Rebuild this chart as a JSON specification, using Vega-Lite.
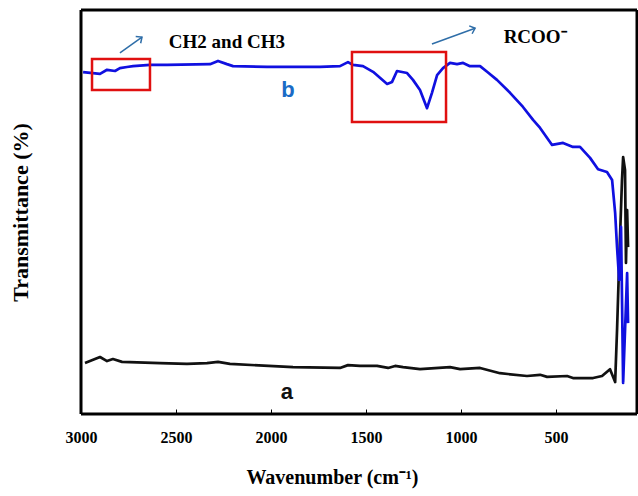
{
  "$schema": "https://vega.github.io/schema/vega-lite/v6.json",
  "width": 556,
  "height": 404,
  "autosize": {"type": "none"},
  "padding": {"left": 81, "top": 10, "right": 1, "bottom": 82},
  "config": {
    "view": {"stroke": null},
    "font": "Liberation Serif"
  },
  "datasets": {
    "spectra": [
      {"series": "a", "wn": 2979, "t": 12.6},
      {"series": "a", "wn": 2900, "t": 14.1},
      {"series": "a", "wn": 2863, "t": 13.1},
      {"series": "a", "wn": 2832, "t": 13.6},
      {"series": "a", "wn": 2784, "t": 12.9},
      {"series": "a", "wn": 2584, "t": 12.6},
      {"series": "a", "wn": 2442, "t": 12.4},
      {"series": "a", "wn": 2337, "t": 12.6},
      {"series": "a", "wn": 2279, "t": 12.9},
      {"series": "a", "wn": 2216, "t": 12.4},
      {"series": "a", "wn": 1884, "t": 11.6},
      {"series": "a", "wn": 1637, "t": 11.4},
      {"series": "a", "wn": 1595, "t": 12.1},
      {"series": "a", "wn": 1532, "t": 11.9},
      {"series": "a", "wn": 1442, "t": 11.9},
      {"series": "a", "wn": 1384, "t": 11.4},
      {"series": "a", "wn": 1347, "t": 11.9},
      {"series": "a", "wn": 1305, "t": 11.6},
      {"series": "a", "wn": 1216, "t": 11.1},
      {"series": "a", "wn": 1058, "t": 11.6},
      {"series": "a", "wn": 1005, "t": 11.1},
      {"series": "a", "wn": 900, "t": 11.4},
      {"series": "a", "wn": 795, "t": 10.1},
      {"series": "a", "wn": 653, "t": 9.4},
      {"series": "a", "wn": 584, "t": 9.7},
      {"series": "a", "wn": 547, "t": 9.2},
      {"series": "a", "wn": 442, "t": 9.4},
      {"series": "a", "wn": 411, "t": 8.9},
      {"series": "a", "wn": 305, "t": 8.9},
      {"series": "a", "wn": 258, "t": 9.4},
      {"series": "a", "wn": 216, "t": 11.1},
      {"series": "a", "wn": 189, "t": 7.9},
      {"series": "a", "wn": 179, "t": 20.8},
      {"series": "a", "wn": 168, "t": 37.4},
      {"series": "a", "wn": 153, "t": 57.9},
      {"series": "a", "wn": 147, "t": 63.6},
      {"series": "a", "wn": 137, "t": 60.4},
      {"series": "a", "wn": 132, "t": 37.4},
      {"series": "a", "wn": 126, "t": 50.5},
      {"series": "a", "wn": 121, "t": 41.3},
      {"series": "b", "wn": 2989, "t": 84.6},
      {"series": "b", "wn": 2900, "t": 84.2},
      {"series": "b", "wn": 2863, "t": 85.2},
      {"series": "b", "wn": 2821, "t": 84.9},
      {"series": "b", "wn": 2795, "t": 85.6},
      {"series": "b", "wn": 2758, "t": 85.9},
      {"series": "b", "wn": 2726, "t": 86.1},
      {"series": "b", "wn": 2637, "t": 86.4},
      {"series": "b", "wn": 2547, "t": 86.4},
      {"series": "b", "wn": 2321, "t": 86.6},
      {"series": "b", "wn": 2279, "t": 87.4},
      {"series": "b", "wn": 2232, "t": 86.6},
      {"series": "b", "wn": 2200, "t": 86.1},
      {"series": "b", "wn": 2021, "t": 85.9},
      {"series": "b", "wn": 1742, "t": 85.9},
      {"series": "b", "wn": 1637, "t": 86.1},
      {"series": "b", "wn": 1595, "t": 87.1},
      {"series": "b", "wn": 1568, "t": 86.4},
      {"series": "b", "wn": 1516, "t": 86.1},
      {"series": "b", "wn": 1463, "t": 84.7},
      {"series": "b", "wn": 1389, "t": 81.7},
      {"series": "b", "wn": 1363, "t": 82.2},
      {"series": "b", "wn": 1337, "t": 84.9},
      {"series": "b", "wn": 1284, "t": 84.4},
      {"series": "b", "wn": 1253, "t": 82.7},
      {"series": "b", "wn": 1216, "t": 80.2},
      {"series": "b", "wn": 1179, "t": 75.7},
      {"series": "b", "wn": 1153, "t": 79.5},
      {"series": "b", "wn": 1126, "t": 83.9},
      {"series": "b", "wn": 1095, "t": 85.6},
      {"series": "b", "wn": 1058, "t": 86.9},
      {"series": "b", "wn": 1021, "t": 86.6},
      {"series": "b", "wn": 989, "t": 86.9},
      {"series": "b", "wn": 953, "t": 86.1},
      {"series": "b", "wn": 900, "t": 86.1},
      {"series": "b", "wn": 863, "t": 84.7},
      {"series": "b", "wn": 811, "t": 82.7},
      {"series": "b", "wn": 742, "t": 79.5},
      {"series": "b", "wn": 674, "t": 76.0},
      {"series": "b", "wn": 621, "t": 72.8},
      {"series": "b", "wn": 584, "t": 70.8},
      {"series": "b", "wn": 521, "t": 66.6},
      {"series": "b", "wn": 463, "t": 67.1},
      {"series": "b", "wn": 411, "t": 66.1},
      {"series": "b", "wn": 374, "t": 66.1},
      {"series": "b", "wn": 321, "t": 63.4},
      {"series": "b", "wn": 279, "t": 60.6},
      {"series": "b", "wn": 232, "t": 59.9},
      {"series": "b", "wn": 205, "t": 57.9},
      {"series": "b", "wn": 189, "t": 49.8},
      {"series": "b", "wn": 179, "t": 41.3},
      {"series": "b", "wn": 168, "t": 33.2},
      {"series": "b", "wn": 158, "t": 46.3},
      {"series": "b", "wn": 147, "t": 7.7},
      {"series": "b", "wn": 126, "t": 34.9},
      {"series": "b", "wn": 121, "t": 22.5}
    ],
    "frame": [
      {"side": "left", "wn": 3000},
      {"side": "right", "wn": 74}
    ],
    "frameh": [
      {"side": "bottom", "t": 0},
      {"side": "top", "t": 100}
    ],
    "boxes": [
      {"x1": 2942, "x2": 2637, "y1": 87.9, "y2": 80.2},
      {"x1": 1574, "x2": 1079, "y1": 89.6, "y2": 72.3}
    ],
    "arrows": [
      {"x1": 2795, "y1": 89.4, "x2": 2679, "y2": 93.3, "ang": 54},
      {"x1": 1153, "y1": 91.6, "x2": 926, "y2": 95.5, "ang": 70}
    ],
    "notes": [
      {"x": 2232, "y": 92.1, "label": "CH2 and CH3"},
      {"x": 610, "y": 93.3, "label": "RCOO⁻"}
    ],
    "tags": [
      {"x": 1911, "y": 80.2, "label": "b", "series": "b"},
      {"x": 1916, "y": 5.4, "label": "a", "series": "a"}
    ]
  },
  "layer": [
    {
      "data": {"name": "spectra"},
      "mark": {"type": "line", "strokeWidth": 2.7, "strokeJoin": "round"},
      "encoding": {
        "x": {
          "field": "wn",
          "type": "quantitative",
          "scale": {"domain": [74, 3000], "reverse": true, "nice": false, "zero": false},
          "axis": {
            "values": [3000, 2500, 2000, 1500, 1000, 500],
            "format": "d",
            "domain": false,
            "grid": false,
            "tickSize": -5,
            "tickColor": "black",
            "tickWidth": 1,
            "labelFont": "Liberation Serif",
            "labelFontWeight": "bold",
            "labelFontSize": 16,
            "labelColor": "black",
            "labelPadding": 20,
            "labelFlush": false,
            "title": "Wavenumber (cm⁻¹)",
            "titleFont": "Liberation Serif",
            "titleFontWeight": "bold",
            "titleFontSize": 20,
            "titleColor": "black",
            "titlePadding": 22,
            "titleX": 251
          }
        },
        "y": {
          "field": "t",
          "type": "quantitative",
          "scale": {"domain": [0, 100], "nice": false, "zero": false},
          "axis": {
            "labels": false,
            "ticks": false,
            "domain": false,
            "grid": false,
            "title": "Transmittance (%)",
            "titleFont": "Liberation Serif",
            "titleFontWeight": "bold",
            "titleFontSize": 22,
            "titleColor": "black",
            "titlePadding": 49
          }
        },
        "color": {
          "field": "series",
          "type": "nominal",
          "scale": {"domain": ["a", "b"], "range": ["#111111", "#1010e0"]},
          "legend": null
        }
      }
    },
    {
      "data": {"name": "frame"},
      "mark": {"type": "rule", "color": "black", "strokeWidth": 3},
      "encoding": {"x": {"field": "wn", "type": "quantitative", "scale": {"domain": [74, 3000], "reverse": true, "nice": false, "zero": false}}}
    },
    {
      "data": {"name": "frameh"},
      "mark": {"type": "rule", "color": "black", "strokeWidth": 3},
      "encoding": {"y": {"field": "t", "type": "quantitative", "scale": {"domain": [0, 100], "nice": false, "zero": false}}}
    },
    {
      "data": {"name": "boxes"},
      "mark": {"type": "rect", "fill": null, "fillOpacity": 0, "stroke": "#e01010", "strokeWidth": 2.5},
      "encoding": {
        "x": {"field": "x1", "type": "quantitative"},
        "x2": {"field": "x2"},
        "y": {"field": "y1", "type": "quantitative"},
        "y2": {"field": "y2"}
      }
    },
    {
      "data": {"name": "arrows"},
      "mark": {"type": "rule", "stroke": "#2f6ea8", "strokeWidth": 1.5},
      "encoding": {
        "x": {"field": "x1", "type": "quantitative"},
        "x2": {"field": "x2"},
        "y": {"field": "y1", "type": "quantitative"},
        "y2": {"field": "y2"}
      }
    },
    {
      "data": {"name": "arrows"},
      "mark": {"type": "point", "shape": "M-0.8,0.9L0,0L0.8,0.9", "filled": false, "stroke": "#2f6ea8", "strokeWidth": 1.5, "size": 110, "opacity": 1},
      "encoding": {
        "x": {"field": "x2", "type": "quantitative"},
        "y": {"field": "y2", "type": "quantitative"},
        "angle": {"field": "ang", "type": "quantitative", "scale": null}
      }
    },
    {
      "data": {"name": "notes"},
      "mark": {"type": "text", "font": "Liberation Serif", "fontWeight": "bold", "fontSize": 19, "color": "black", "align": "center", "baseline": "middle"},
      "encoding": {
        "x": {"field": "x", "type": "quantitative"},
        "y": {"field": "y", "type": "quantitative"},
        "text": {"field": "label"}
      }
    },
    {
      "data": {"name": "tags"},
      "mark": {"type": "text", "font": "Liberation Sans", "fontWeight": "bold", "fontSize": 22, "align": "center", "baseline": "middle"},
      "encoding": {
        "x": {"field": "x", "type": "quantitative"},
        "y": {"field": "y", "type": "quantitative"},
        "text": {"field": "label"},
        "color": {
          "field": "series",
          "type": "nominal",
          "scale": {"domain": ["a", "b"], "range": ["#111111", "#1a6bc6"]},
          "legend": null
        }
      }
    }
  ],
  "resolve": {"scale": {"color": "independent"}}
}
